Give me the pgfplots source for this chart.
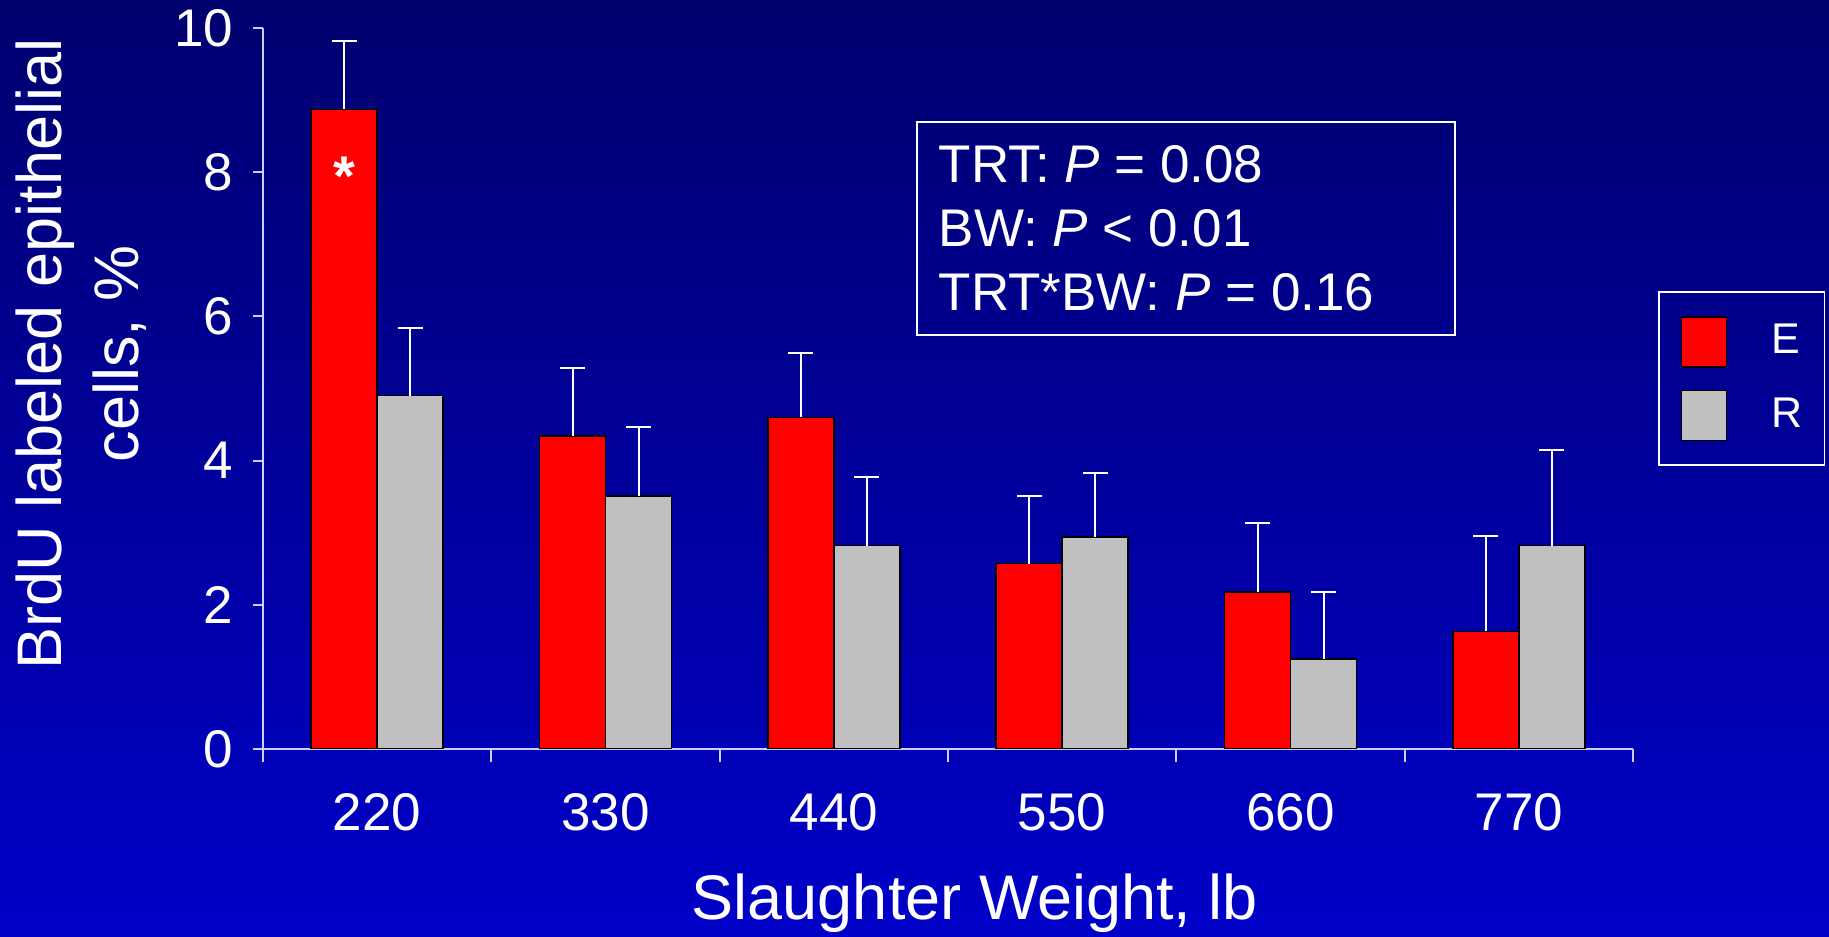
\documentclass[border=0pt]{standalone}
\usepackage{fontspec}
\setmainfont{Liberation Sans}
\usepackage{pgfplots}
\pgfplotsset{compat=1.18}

\definecolor{bgtop}{RGB}{0,0,110}
\definecolor{bgbot}{RGB}{0,0,200}
\definecolor{axcol}{RGB}{205,205,250}
\definecolor{greybar}{RGB}{192,192,192}

% 1 px of the reference = 0.25pt
\begin{document}
\begin{tikzpicture}
\shade[top color=bgtop, bottom color=bgbot] (0,0) rectangle (457.25pt,-234.25pt);

\begin{axis}[
    at={(65.75pt,-187.25pt)}, anchor=south west,
    scale only axis, width=342.5pt, height=180.25pt,
    xmin=-0.5, xmax=5.5, ymin=0, ymax=10,
    axis x line*=bottom, axis y line*=left,
    axis line style={axcol, line width=0.5pt},
    ybar=0pt, bar width=16.5pt,
    xtick={0,...,5},
    xticklabels={220,330,440,550,660,770},
    minor xtick={-0.5,0.5,1.5,2.5,3.5,4.5,5.5},
    ytick={0,2,4,6,8,10},
    tick align=outside,
    major tick length=2.5pt, minor tick length=3.25pt,
    tick style={axcol, line width=0.5pt},
    major x tick style={draw=none},
    ticklabel style={font=\fontsize{13.25}{16}\selectfont, text=white},
    /pgf/number format/assume math mode=true,
    xticklabel shift=5.1pt,
    yticklabel shift=1.4pt,
    xlabel={Slaughter Weight, lb},
    xlabel style={at={(axis description cs:0.5197,0)}, anchor=base, yshift=-42.75pt,
        font=\fontsize{15.75}{19.25}\selectfont, text=white},
    ylabel={BrdU labeled epithelial\\cells, \%},
    ylabel style={at={(axis description cs:-0.1325,0.548)}, anchor=center, align=center,
        font=\fontsize{15.75}{19.25}\selectfont, text=white},
    legend image code/.code={\draw[#1, draw=black, line width=0.4pt] (0pt,-6.25pt) rectangle (11.25pt,6.25pt);},
    legend style={at={(rel axis cs:1.0168,0.635)}, anchor=north west, xshift=0.5pt,
        draw=white, line width=0.4pt, fill=none, text=white,
        font=\fontsize{10.75}{13}\selectfont,
        inner xsep=5.5pt, inner ysep=6pt, row sep=5.5pt,
        nodes={inner sep=0pt},
        /tikz/every odd column/.append style={column sep=11pt}},
    legend cell align=left,
]

\addplot[fill=red, draw=black, line width=0.4pt,
    error bars/.cd, y dir=plus, y explicit,
    error bar style={white, line width=0.5pt},
    error mark options={rotate=90, white, mark size=3.1pt, line width=0.5pt}]
    coordinates {
    (0,8.87) +- (0,0.95)
    (1,4.34) +- (0,0.95)
    (2,4.60) +- (0,0.89)
    (3,2.57) +- (0,0.94)
    (4,2.18) +- (0,0.96)
    (5,1.63) +- (0,1.32)
    };
\addlegendentry{E}

\addplot[fill=greybar, draw=black, line width=0.4pt,
    error bars/.cd, y dir=plus, y explicit,
    error bar style={white, line width=0.5pt},
    error mark options={rotate=90, white, mark size=3.1pt, line width=0.5pt}]
    coordinates {
    (0,4.90) +- (0,0.94)
    (1,3.51) +- (0,0.96)
    (2,2.82) +- (0,0.95)
    (3,2.94) +- (0,0.89)
    (4,1.25) +- (0,0.93)
    (5,2.82) +- (0,1.33)
    };
\addlegendentry{R}

\node[text=white, inner sep=0pt, anchor=north, xshift=-8.25pt,
    font=\bfseries\fontsize{14}{16}\selectfont] at (axis cs:0,8.22) {*};
\end{axis}

% statistics box
\draw[white, line width=0.4pt] (229.25pt,-30.5pt) rectangle (363.75pt,-83.75pt);
\begin{scope}[every node/.style={anchor=base west, inner sep=0pt, text=white,
    font=\fontsize{13.25}{16}\selectfont}]
\node at (234.5pt,-45.75pt) {TRT: \textit{P} = 0.08};
\node at (234.5pt,-61.75pt) {BW: \textit{P} < 0.01};
\node at (234.5pt,-77.75pt) {TRT*BW: \textit{P} = 0.16};
\end{scope}

\pgfresetboundingbox
\path[use as bounding box] (0,0) rectangle (457.25pt,-234.25pt);
\end{tikzpicture}
\end{document}
